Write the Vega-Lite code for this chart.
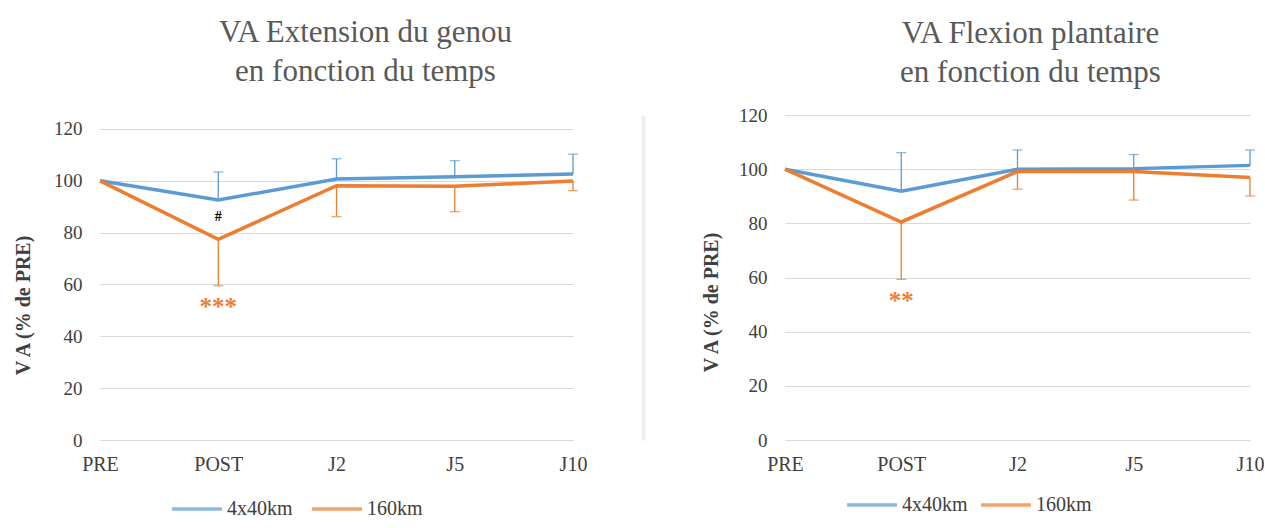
{
  "$schema": "https://vega.github.io/schema/vega-lite/v6.json",
  "background": "white",
  "padding": {"left": 13, "top": 17, "right": 0, "bottom": 0},
  "spacing": 58,
  "config": {
    "font": "Liberation Serif",
    "view": {"stroke": null},
    "axis": {"labelFont": "Liberation Serif", "labelFontSize": 19, "labelColor": "#404040", "titleFont": "Liberation Serif"},
    "title": {"font": "Liberation Serif", "fontSize": 31, "fontWeight": "normal", "color": "#595959", "lineHeight": 39, "anchor": "middle"}
  },
  "datasets": {
    "genou": [
      {"t": "PRE", "grp": "4x40km", "va": 100, "err_end": null},
      {"t": "POST", "grp": "4x40km", "va": 92.6, "err_end": 103.4},
      {"t": "J2", "grp": "4x40km", "va": 100.7, "err_end": 108.5},
      {"t": "J5", "grp": "4x40km", "va": 101.6, "err_end": 107.8},
      {"t": "J10", "grp": "4x40km", "va": 102.6, "err_end": 110.3},
      {"t": "PRE", "grp": "160km", "va": 100, "err_end": null},
      {"t": "POST", "grp": "160km", "va": 77.4, "err_end": 59.5},
      {"t": "J2", "grp": "160km", "va": 98.1, "err_end": 86.2},
      {"t": "J5", "grp": "160km", "va": 97.9, "err_end": 88.1},
      {"t": "J10", "grp": "160km", "va": 99.9, "err_end": 96.2}
    ],
    "plantaire": [
      {"t": "PRE", "grp": "4x40km", "va": 100, "err_end": null},
      {"t": "POST", "grp": "4x40km", "va": 91.9, "err_end": 106.1},
      {"t": "J2", "grp": "4x40km", "va": 100.0, "err_end": 107.1},
      {"t": "J5", "grp": "4x40km", "va": 100.2, "err_end": 105.4},
      {"t": "J10", "grp": "4x40km", "va": 101.4, "err_end": 107.1},
      {"t": "PRE", "grp": "160km", "va": 100, "err_end": null},
      {"t": "POST", "grp": "160km", "va": 80.5, "err_end": 59.3},
      {"t": "J2", "grp": "160km", "va": 99.1, "err_end": 92.6},
      {"t": "J5", "grp": "160km", "va": 99.1, "err_end": 88.6},
      {"t": "J10", "grp": "160km", "va": 96.9, "err_end": 90.1}
    ]
  },
  "hconcat": [
    {
      "width": 473,
      "height": 325,
      "title": {"text": ["VA Extension du genou", "en fonction du temps"], "offset": 27, "dx": 29},
      "data": {"name": "genou"},
      "encoding": {
        "x": {"field": "t", "type": "ordinal", "sort": ["PRE", "POST", "J2", "J5", "J10"], "scale": {"type": "point", "padding": 0},
          "axis": {"title": null, "labelAngle": 0, "labelFontSize": 20, "domain": true, "domainColor": "#D9D9D9", "ticks": false, "grid": false, "labelPadding": 14}}
      },
      "layer": [
        {
          "transform": [{"filter": "isValid(datum.err_end)"}],
          "mark": {"type": "rule", "strokeWidth": 1.3},
          "encoding": {
            "y": {"field": "va", "type": "quantitative", "scale": {"domain": [0, 125.4], "nice": false},
              "axis": {"title": "V A (% de PRE)", "titleFontWeight": "bold", "titleFontSize": 20, "titleColor": "#404040", "titleAngle": -90, "titleBaseline": "middle", "titleAlign": "center", "titleX": -77, "titleY": 190,
                "values": [0, 20, 40, 60, 80, 100, 120], "grid": true, "gridColor": "#D9D9D9", "domain": false, "ticks": false, "labelPadding": 18}},
            "y2": {"field": "err_end"},
            "color": {"field": "grp", "type": "nominal", "scale": {"domain": ["4x40km", "160km"], "range": ["#5B9BD5", "#ED7D31"]}}
          }
        },
        {
          "transform": [{"filter": "isValid(datum.err_end)"}],
          "mark": {"type": "tick", "size": 10, "thickness": 1.3, "orient": "horizontal"},
          "encoding": {
            "y": {"field": "err_end", "type": "quantitative", "axis": null},
            "color": {"field": "grp", "type": "nominal"}
          }
        },
        {
          "mark": {"type": "line", "strokeWidth": 3.5},
          "encoding": {
            "y": {"field": "va", "type": "quantitative",
              "axis": {"orient": "right", "offset": 70, "domain": true, "domainColor": "#EEEEEE", "domainWidth": 4, "labels": false, "ticks": false, "grid": false, "title": null}},
            "color": {"field": "grp", "type": "nominal",
              "legend": {"orient": "none", "legendX": 70, "legendY": 367, "direction": "horizontal", "title": null, "symbolType": "stroke", "symbolSize": 2500, "symbolStrokeWidth": 3.5, "labelFont": "Liberation Serif", "labelFontSize": 20, "labelColor": "#404040", "columnPadding": 12, "labelOffset": 3, "padding": 0}}
          }
        },
        {
          "data": {"values": [{"t": "POST", "label": "#", "va": 86}]},
          "mark": {"type": "text", "color": "#000000", "fontSize": 14, "fontWeight": "bold"},
          "encoding": {"text": {"field": "label"}, "y": {"field": "va", "type": "quantitative", "axis": null}}
        },
        {
          "data": {"values": [{"t": "POST", "label": "***", "va": 51.5}]},
          "mark": {"type": "text", "color": "#ED7D31", "fontSize": 25, "fontWeight": "bold"},
          "encoding": {"text": {"field": "label"}, "y": {"field": "va", "type": "quantitative", "axis": null}}
        }
      ],
      "resolve": {"axis": {"y": "independent"}}
    },
    {
      "width": 465,
      "height": 325,
      "title": {"text": ["VA Flexion plantaire", "en fonction du temps"], "offset": 17, "dx": 13},
      "data": {"name": "plantaire"},
      "encoding": {
        "x": {"field": "t", "type": "ordinal", "sort": ["PRE", "POST", "J2", "J5", "J10"], "scale": {"type": "point", "padding": 0},
          "axis": {"title": null, "labelAngle": 0, "labelFontSize": 20, "domain": true, "domainColor": "#D9D9D9", "ticks": false, "grid": false, "labelPadding": 14}}
      },
      "layer": [
        {
          "transform": [{"filter": "isValid(datum.err_end)"}],
          "mark": {"type": "rule", "strokeWidth": 1.3},
          "encoding": {
            "y": {"field": "va", "type": "quantitative", "scale": {"domain": [0, 120]},
              "axis": {"title": "V A (% de PRE)", "titleFontWeight": "bold", "titleFontSize": 20, "titleColor": "#404040", "titleAngle": -90, "titleBaseline": "middle", "titleAlign": "center", "titleX": -74, "titleY": 187,
                "values": [0, 20, 40, 60, 80, 100, 120], "grid": true, "gridColor": "#D9D9D9", "domain": false, "ticks": false, "labelPadding": 18}},
            "y2": {"field": "err_end"},
            "color": {"field": "grp", "type": "nominal"}
          }
        },
        {
          "transform": [{"filter": "isValid(datum.err_end)"}],
          "mark": {"type": "tick", "size": 10, "thickness": 1.3, "orient": "horizontal"},
          "encoding": {
            "y": {"field": "err_end", "type": "quantitative"},
            "color": {"field": "grp", "type": "nominal"}
          }
        },
        {
          "mark": {"type": "line", "strokeWidth": 3.5},
          "encoding": {
            "y": {"field": "va", "type": "quantitative"},
            "color": {"field": "grp", "type": "nominal",
              "legend": {"orient": "none", "legendX": 60, "legendY": 363, "direction": "horizontal", "title": null, "symbolType": "stroke", "symbolSize": 2500, "symbolStrokeWidth": 3.5, "labelFont": "Liberation Serif", "labelFontSize": 20, "labelColor": "#404040", "columnPadding": 6, "labelOffset": 3, "padding": 0}}
          }
        },
        {
          "data": {"values": [{"t": "POST", "label": "**", "va": 51.5}]},
          "mark": {"type": "text", "color": "#ED7D31", "fontSize": 25, "fontWeight": "bold"},
          "encoding": {"text": {"field": "label"}, "y": {"field": "va", "type": "quantitative"}}
        }
      ]
    }
  ],
  "resolve": {"scale": {"x": "independent", "y": "independent", "color": "shared"}, "legend": {"color": "independent"}}
}
